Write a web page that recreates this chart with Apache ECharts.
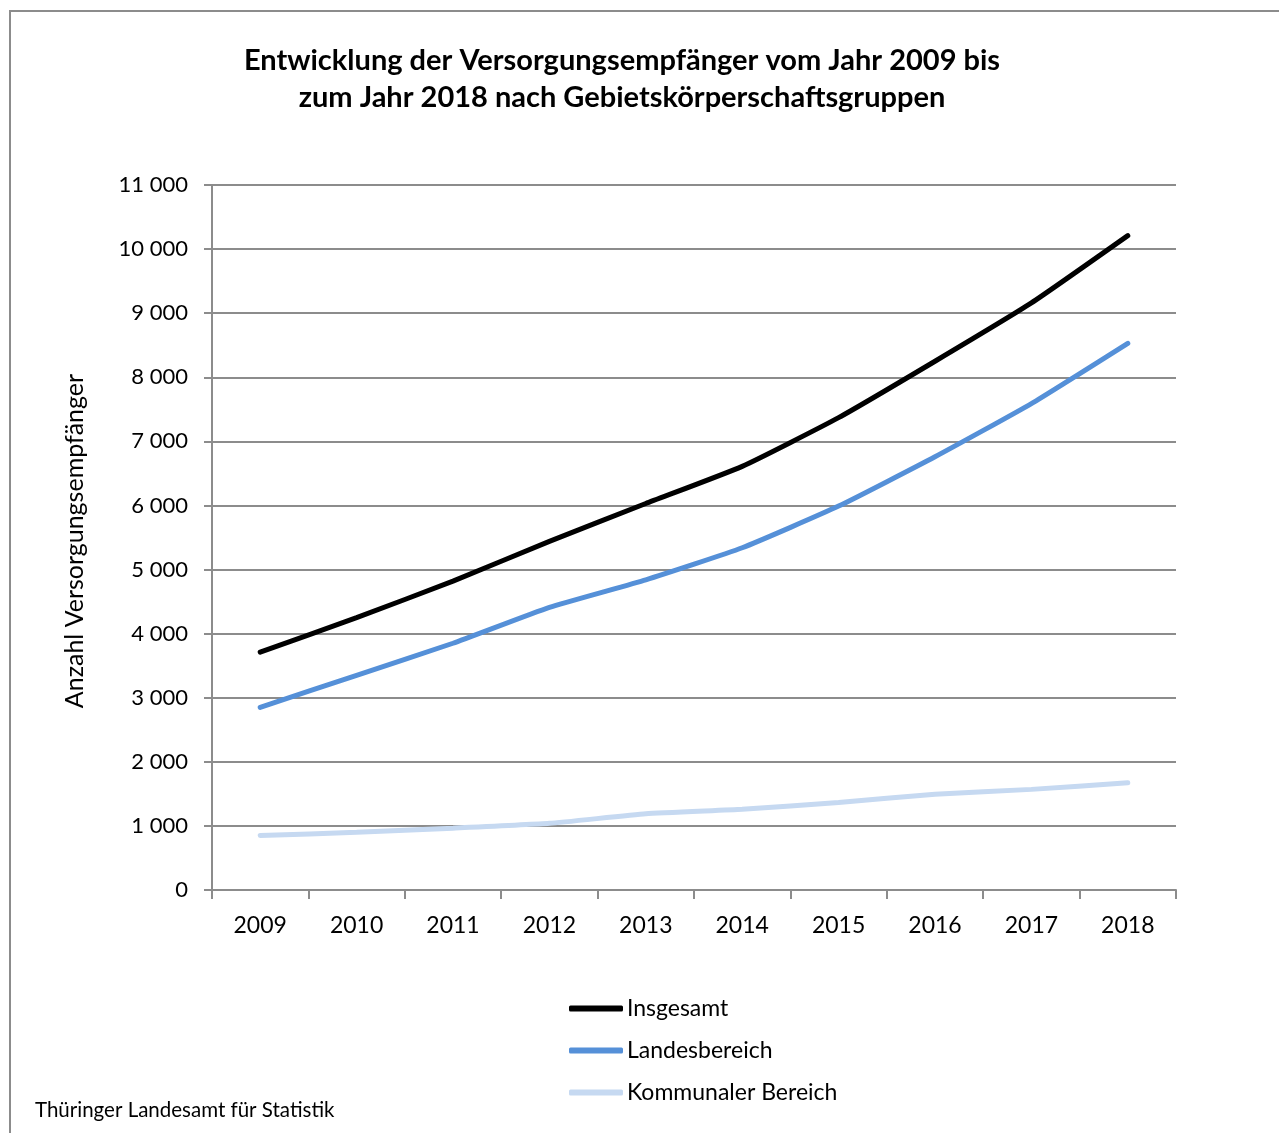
<!DOCTYPE html>
<html>
<head>
<meta charset="utf-8">
<script src="https://cdn.jsdelivr.net/npm/echarts@6/dist/echarts.min.js"></script>
<style>
html,body{margin:0;padding:0;background:#fff;}
#chart{width:1279px;height:1133px;}
</style>
</head>
<body>
<div id="chart"></div>
<script>
var years = ['2009','2010','2011','2012','2013','2014','2015','2016','2017','2018'];
var insgesamt = [3710, 4250, 4820, 5440, 6030, 6610, 7370, 8250, 9160, 10210];
var landesbereich = [2850, 3350, 3850, 4410, 4840, 5340, 5990, 6760, 7590, 8530];
var kommunal = [850, 900, 965, 1040, 1190, 1260, 1365, 1495, 1570, 1675];
var seriesNames = ['Insgesamt', 'Landesbereich', 'Kommunaler Bereich'];
var colors = ['#000000', '#5590d8', '#c6d9f1'];

var FONT = 'Lato';
var chart = echarts.init(document.getElementById('chart'), null, {renderer: 'canvas'});

function fmt(v) {
  return String(v).replace(/\B(?=(\d{3})+(?!\d))/g, ' ');
}

var dataSets = [insgesamt, landesbereich, kommunal];
var series = dataSets.map(function (d, i) {
  return {
    name: seriesNames[i],
    type: 'line',
    data: d,
    symbol: 'none',
    smooth: 0.15,
    lineStyle: {color: colors[i], width: 5, cap: 'round'},
    itemStyle: {color: colors[i]},
    z: 10 - i
  };
});

chart.setOption({
  animation: false,
  textStyle: {fontFamily: FONT},
  grid: {left: 212, right: 103, top: 185, bottom: 243, containLabel: false},
  xAxis: {
    type: 'category',
    data: years,
    boundaryGap: true,
    axisLine: {lineStyle: {color: '#8c8c8c', width: 2}},
    axisTick: {show: true, length: 9, lineStyle: {color: '#8c8c8c', width: 2}},
    axisLabel: {color: '#000', fontSize: 23, fontFamily: FONT, margin: 24}
  },
  yAxis: {
    type: 'value',
    min: 0,
    max: 11000,
    interval: 1000,
    axisLine: {show: true, lineStyle: {color: '#8c8c8c', width: 2}},
    axisTick: {show: true, length: 8, lineStyle: {color: '#8c8c8c', width: 2}},
    splitLine: {show: true, lineStyle: {color: '#8c8c8c', width: 2}},
    axisLabel: {color: '#000', fontSize: 22, fontFamily: FONT, margin: 24, formatter: fmt}
  },
  legend: {
    orient: 'vertical',
    left: 564,
    top: 992,
    itemWidth: 54,
    itemHeight: 6,
    itemGap: 19,
    icon: 'roundRect',
    data: seriesNames.map(function (n, i) {
      return {name: n, itemStyle: {color: colors[i]}};
    }),
    textStyle: {fontSize: 23, color: '#000', fontFamily: FONT, padding: [0, 0, 0, -1]}
  },
  graphic: [
    {
      type: 'rect', silent: true,
      shape: {x: 10, y: 11, width: 1300, height: 1200},
      style: {fill: 'none', stroke: '#8c8c8c', lineWidth: 2}
    },
    {
      type: 'text', x: 622, y: 42,
      style: {
        text: 'Entwicklung der Versorgungsempfänger vom Jahr 2009 bis\nzum Jahr 2018 nach Gebietskörperschaftsgruppen',
        font: 'bold 29px ' + FONT, fill: '#000', textAlign: 'center', lineHeight: 37
      }
    },
    {
      type: 'text',
      x: 75, y: 541,
      rotation: Math.PI / 2,
      style: {
        text: 'Anzahl Versorgungsempfänger',
        font: '25px ' + FONT, fill: '#000', textAlign: 'center', textVerticalAlign: 'middle'
      }
    },
    {
      type: 'text', left: 35, top: 1100,
      style: {text: 'Thüringer Landesamt für Statistik', font: '20.5px ' + FONT, fill: '#000'}
    }
  ],
  series: series
});
</script>
</body>
</html>
